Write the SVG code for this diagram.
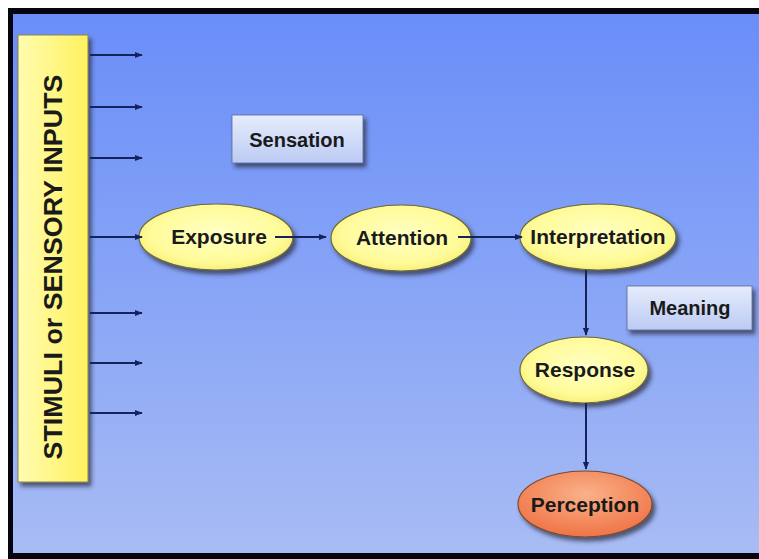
<svg xmlns="http://www.w3.org/2000/svg" width="759" height="559" viewBox="0 0 759 559">
<defs>
<linearGradient id="bg" x1="0" y1="0" x2="0" y2="1">
<stop offset="0" stop-color="#6a8ef9"/>
<stop offset="0.5" stop-color="#87a4f6"/>
<stop offset="1" stop-color="#a8bcf4"/>
</linearGradient>
<linearGradient id="yb" x1="0" y1="0" x2="1" y2="0">
<stop offset="0" stop-color="#fffcb0"/>
<stop offset="1" stop-color="#fff15e"/>
</linearGradient>
<radialGradient id="ye" cx="0.5" cy="0.45" r="0.6">
<stop offset="0" stop-color="#ffffc4"/>
<stop offset="0.7" stop-color="#fffb9a"/>
<stop offset="1" stop-color="#f5ec70"/>
</radialGradient>
<radialGradient id="oe" cx="0.5" cy="0.35" r="0.65">
<stop offset="0" stop-color="#fbb189"/>
<stop offset="1" stop-color="#ef7446"/>
</radialGradient>
<linearGradient id="lb" x1="0" y1="0" x2="0" y2="1">
<stop offset="0" stop-color="#e6ecfc"/>
<stop offset="1" stop-color="#bccbf4"/>
</linearGradient>
<filter id="sh" x="-10%" y="-10%" width="130%" height="140%">
<feDropShadow dx="3" dy="4" stdDeviation="2" flood-color="#2a2a3a" flood-opacity="0.7"/>
</filter>
<marker id="ah" viewBox="0 0 10 10" refX="9" refY="5" markerWidth="8" markerHeight="8" orient="auto" markerUnits="userSpaceOnUse">
<path d="M0,1 L10,5 L0,9 Z" fill="#14235e"/>
</marker>
<style>
.t{font-family:"Liberation Sans",Arial,sans-serif;font-weight:bold;fill:#1a1a1a;text-anchor:middle}
.el{fill:url(#ye);stroke:#6e6a3a;stroke-width:1.2;filter:url(#sh)}
.c{stroke:#14235e;stroke-width:2;fill:none;marker-end:url(#ah)}
.bx{fill:url(#lb);stroke:#5a6a9a;stroke-width:0.8;filter:url(#sh)}
</style>
</defs>
<rect x="0" y="0" width="759" height="559" fill="#ffffff"/>
<rect x="8" y="8" width="751" height="551" fill="#050510"/>
<rect x="13" y="14" width="746" height="539" fill="url(#bg)"/>

<g id="stimuli">
<rect x="18" y="35" width="70" height="447" fill="url(#yb)" stroke="#8a8450" stroke-width="1" filter="url(#sh)"/>
<text class="t" transform="translate(62,267) rotate(-90)" font-size="25" textLength="385" lengthAdjust="spacingAndGlyphs">STIMULI or SENSORY INPUTS</text>
</g>

<g id="sensation">
<rect class="bx" x="232" y="115" width="131" height="48"/>
<text class="t" x="297" y="147" font-size="20">Sensation</text>
</g>

<g id="meaning">
<rect class="bx" x="627" y="286" width="125" height="44"/>
<text class="t" x="690" y="315" font-size="20">Meaning</text>
</g>

<g id="exposure">
<ellipse class="el" cx="216" cy="237" rx="77" ry="33"/>
<text class="t" x="219" y="244" font-size="21">Exposure</text>
</g>

<g id="attention">
<ellipse class="el" cx="401" cy="238" rx="70" ry="33"/>
<text class="t" x="402" y="245" font-size="21">Attention</text>
</g>

<g id="interpretation">
<ellipse class="el" cx="598" cy="237" rx="78" ry="33"/>
<text class="t" x="598" y="244" font-size="21">Interpretation</text>
</g>

<g id="response">
<ellipse class="el" cx="584" cy="370" rx="64" ry="33"/>
<text class="t" x="585" y="377" font-size="21">Response</text>
</g>

<g id="perception">
<ellipse cx="585" cy="504" rx="67" ry="33" fill="url(#oe)" stroke="#7a4a30" stroke-width="1.2" filter="url(#sh)"/>
<text class="t" x="585" y="512" font-size="21">Perception</text>
</g>

<g id="connectors">
<line class="c" x1="90" y1="55" x2="142" y2="55"/>
<line class="c" x1="90" y1="107" x2="142" y2="107"/>
<line class="c" x1="90" y1="158" x2="142" y2="158"/>
<line class="c" x1="90" y1="237" x2="142" y2="237"/>
<line class="c" x1="90" y1="313" x2="142" y2="313"/>
<line class="c" x1="90" y1="363" x2="142" y2="363"/>
<line class="c" x1="90" y1="413" x2="142" y2="413"/>
<line class="c" x1="275" y1="237" x2="326" y2="237"/>
<line class="c" x1="458" y1="237" x2="522" y2="237"/>
<line class="c" x1="586" y1="270" x2="586" y2="335"/>
<line class="c" x1="586" y1="403" x2="586" y2="469"/>
</g>
</svg>
